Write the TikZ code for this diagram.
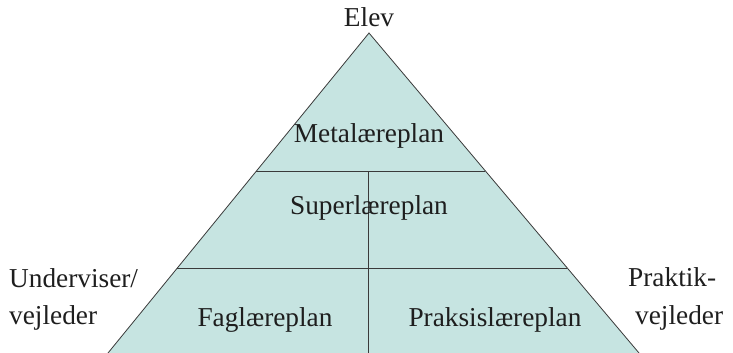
\documentclass[tikz,border=0pt]{standalone}
\usepackage{fontspec}
\setmainfont{Liberation Serif}
\usetikzlibrary{calc}
\definecolor{trifill}{HTML}{C6E4E1}
\definecolor{rulecol}{HTML}{3A3A3A}
\definecolor{txt}{HTML}{1E1E1E}
\begin{document}
\begin{tikzpicture}[x=1pt,y=-1pt,
  lbl/.style={font=\fontsize{27.3}{31}\selectfont, text=txt, inner sep=0pt, anchor=base},
  rule/.style={draw=rulecol, line width=0.8pt}]
\useasboundingbox (0,0) rectangle (733,353);
\coordinate (apex) at (369,33);
\coordinate (bl) at (108,353);
\coordinate (br) at (639,353);
\fill[trifill] (apex) -- (br) -- (bl) -- cycle;
\draw[rule] (bl) -- (apex) -- (br);
\coordinate (l1) at ($(apex)!0.43125!(bl)$);
\coordinate (r1) at ($(apex)!0.43125!(br)$);
\coordinate (l2) at ($(apex)!0.734375!(bl)$);
\coordinate (r2) at ($(apex)!0.734375!(br)$);
\coordinate (vt) at (368,171);
\coordinate (vb) at (368,353);
\draw[rule] (l1) -- (r1);
\draw[rule] (l2) -- (r2);
\draw[rule] (vt) -- (vb);
\node[lbl] (elev) at (369,27) {Elev};
\node[lbl] (meta) at (369,142) {Metalæreplan};
\node[lbl] (super) at (369,214) {Superlæreplan};
\node[lbl] (fag) at (265,326) {Faglæreplan};
\node[lbl] (praks) at (495,326) {Praksislæreplan};
\node[lbl, anchor=base west] (und) at (9,287) {Underviser/};
\node[lbl, anchor=base west] (vej1) at (9,324) {vejleder};
\node[lbl, anchor=base west] (prak) at (628,286) {Praktik-};
\node[lbl, anchor=base west] (vej2) at (635,324) {vejleder};
\end{tikzpicture}
\end{document}
